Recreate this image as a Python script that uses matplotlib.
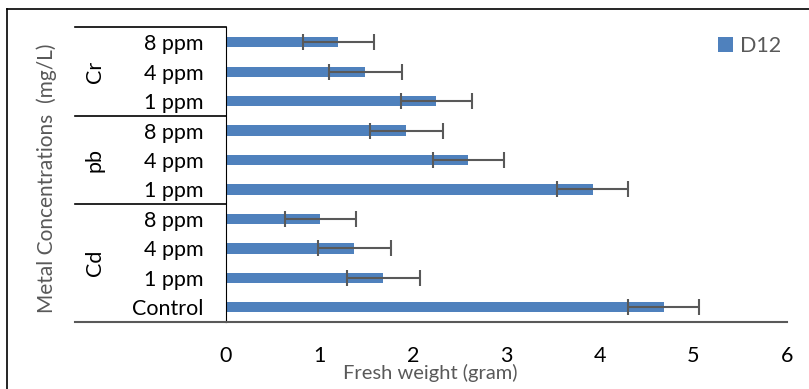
import matplotlib.pyplot as plt
import matplotlib.transforms as mtransforms
from matplotlib.lines import Line2D

plt.rcParams['font.family'] = ['Lato', 'DejaVu Sans']

# bottom to top
labels = ["Control", "1 ppm", "4 ppm", "8 ppm",
          "1 ppm", "4 ppm", "8 ppm",
          "1 ppm", "4 ppm", "8 ppm"]
fresh_weight = [4.68, 1.68, 1.37, 1.01, 3.92, 2.59, 1.93, 2.25, 1.49, 1.20]
errors = [0.38, 0.39, 0.39, 0.38, 0.38, 0.38, 0.39, 0.38, 0.39, 0.38]
groups = ["Cd", "pb", "Cr"]
group_sizes = [4, 3, 3]

BLUE = "#4F81BD"
GREY = "#595959"

fig = plt.figure(figsize=(8.09, 3.89), dpi=100)
ax = fig.add_axes([226 / 809, 1 - 322 / 389, 561 / 809, 294.5 / 389])

y = list(range(len(labels)))
ax.barh(y, fresh_weight, height=0.35, color=BLUE, label="D12",
        xerr=errors, error_kw=dict(ecolor=GREY, elinewidth=1.5, capsize=6, capthick=1.5))

ax.set_xlim(0, 6)
ax.set_ylim(-0.5, 9.5)
ax.set_xticks(range(7))
ax.set_yticks(y)
ax.set_yticklabels(labels)
ax.tick_params(axis="y", length=0, labelsize=15.5, pad=16)
ax.tick_params(axis="x", length=0, labelsize=15.5, pad=17)

for s in ["top", "right"]:
    ax.spines[s].set_visible(False)
ax.spines["left"].set_color("black")
ax.spines["bottom"].set_color(GREY)
ax.spines["bottom"].set_linewidth(1.5)

# multi-level category lines and group labels
trans = mtransforms.blended_transform_factory(ax.transAxes, ax.transData)
x0 = (75 - 226) / 561
start = -0.5
ax.plot([x0, 0], [start, start], color=GREY, lw=1.5, transform=trans, clip_on=False)
for name, n in zip(groups, group_sizes):
    end = start + n
    ax.plot([x0, 0], [end, end], color="black", lw=1.2, transform=trans, clip_on=False)
    ax.text((95 - 226) / 561, (start + end) / 2, name, rotation=90, fontsize=15.5,
            ha="center", va="center", transform=trans)
    start = end

ax.set_xlabel("Fresh weight (gram)", fontsize=14.5, color=GREY)
ax.xaxis.set_label_coords((430 - 226) / 561, (322 - 364) / 294.5)
fig.text(47 / 809, 1 - 178 / 389, "Metal Concentrations  (mg/L)", rotation=90,
         fontsize=15, color=GREY, ha="center", va="center")

leg = ax.legend(loc="upper right", bbox_to_anchor=(800 / 809, 1 - 17 / 389),
                bbox_transform=fig.transFigure, frameon=False, fontsize=15.5,
                handlelength=0.7, handleheight=0.7, handletextpad=0.3)
for t in leg.get_texts():
    t.set_color(GREY)

# chart frame
fig.add_artist(Line2D([7 / 809, 7 / 809], [0, 1 - 9 / 389], color="black", lw=1.2))
fig.add_artist(Line2D([7 / 809, 1], [1 - 9 / 389, 1 - 9 / 389], color="black", lw=1.2))

fig.savefig("out.png", dpi=100)
